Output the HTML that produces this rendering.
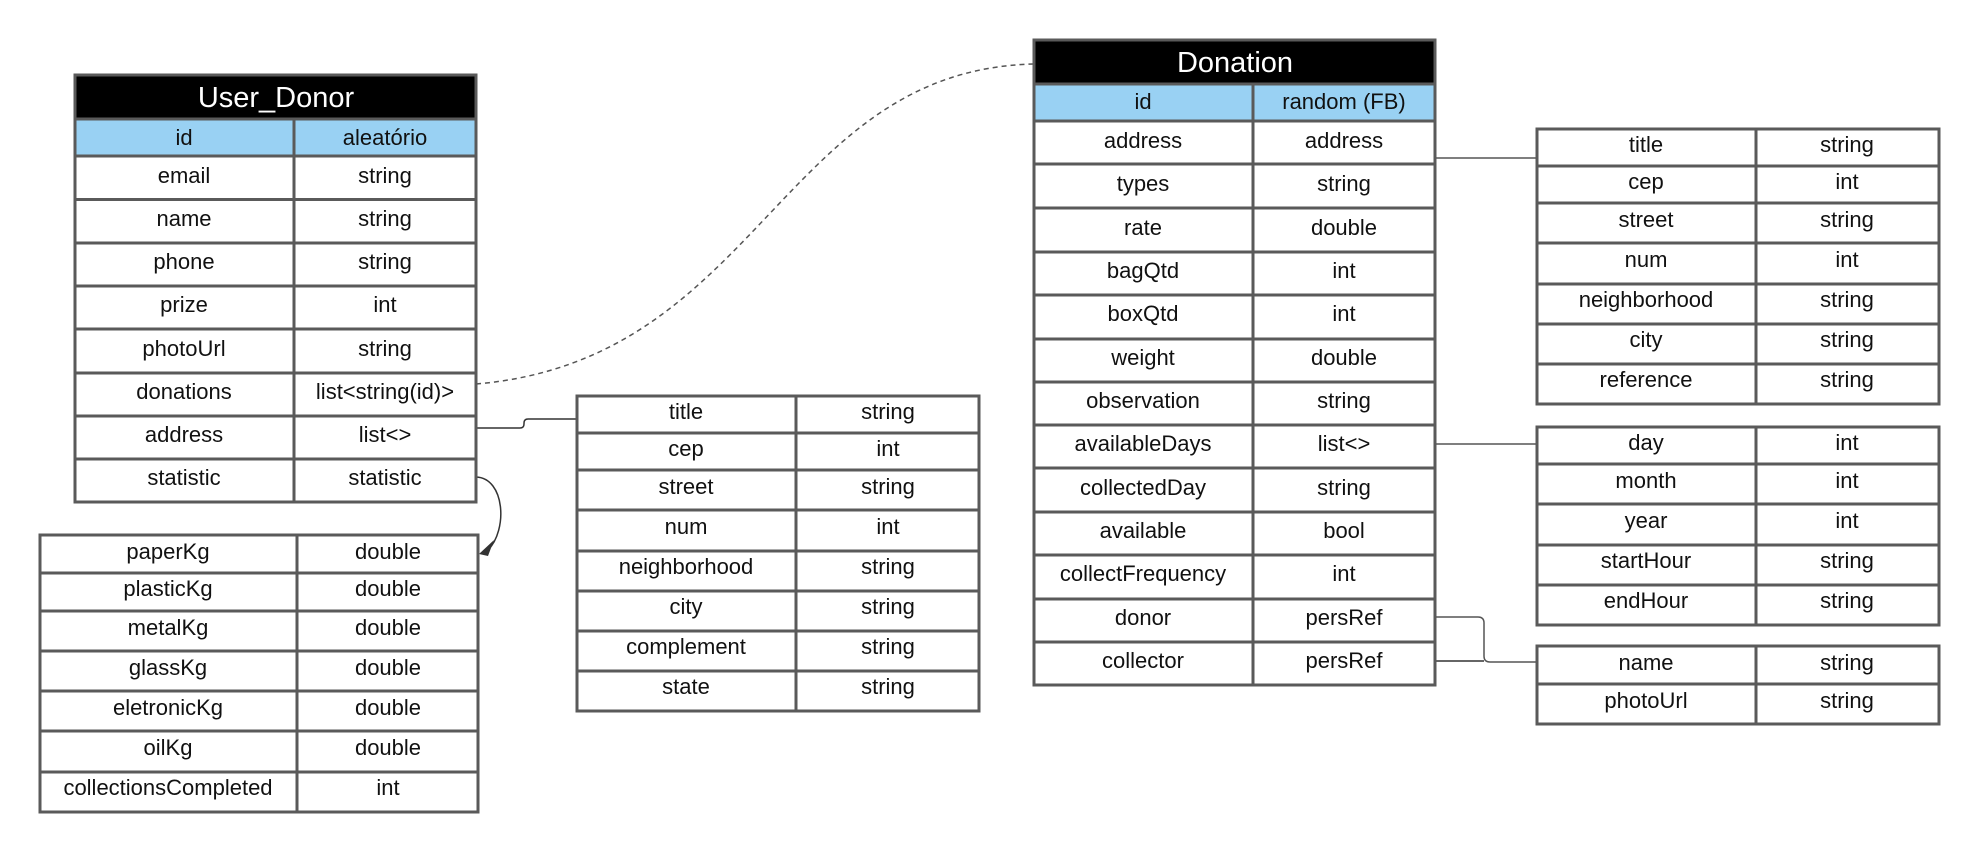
<!DOCTYPE html>
<html><head><meta charset="utf-8"><style>
html,body{margin:0;padding:0;background:#fff;}
svg{display:block;}
text{font-family:"Liberation Sans",Arial,sans-serif;font-size:22px;fill:#111;text-anchor:middle;}
.t{font-size:29px;fill:#fff;}
.g{stroke:#5a5a5a;stroke-width:3;fill:none;}
</style></head><body>
<svg width="1975" height="847" viewBox="0 0 1975 847" xmlns="http://www.w3.org/2000/svg">
<!-- connectors -->
<path d="M476 384 C 760 360, 780 70, 1034 64" stroke="#555" stroke-width="1.5" fill="none" stroke-dasharray="5,4"/>
<path d="M476 428 L520 428 Q524 428 524 424 L524 423 Q524 419 528 419 L576 419" stroke="#333" stroke-width="1.5" fill="none"/>
<path d="M476 477 C 505 478, 508 530, 488 550" stroke="#333" stroke-width="1.5" fill="none"/>
<polygon points="479,554 494,540 488,556" fill="#333"/>
<path d="M1435 158 L1537 158" stroke="#555" stroke-width="1.5"/>
<path d="M1435 444 L1537 444" stroke="#555" stroke-width="1.5"/>
<path d="M1435 617 L1478 617 Q1484 617 1484 623 L1484 656 Q1484 662 1490 662 L1536 662" stroke="#555" stroke-width="1.5" fill="none"/>
<path d="M1435 661 L1484 661" stroke="#333" stroke-width="1.5"/>

<!-- User_Donor -->
<rect x="75" y="75" width="401" height="44" fill="#000"/>
<rect x="75" y="119" width="401" height="37" fill="#99d1f3"/>
<text class="t" x="276" y="107">User_Donor</text>
<g class="g">
<rect x="75" y="75" width="401" height="427"/>
<path d="M75 119H476M75 156H476M75 199.5H476M75 243H476M75 286H476M75 329H476M75 373H476M75 416H476M75 459H476M294 119V502"/>
</g>
<text x="184" y="145">id</text><text x="385" y="145">aleatório</text>
<text x="184" y="183">email</text><text x="385" y="183">string</text>
<text x="184" y="226">name</text><text x="385" y="226">string</text>
<text x="184" y="269">phone</text><text x="385" y="269">string</text>
<text x="184" y="312">prize</text><text x="385" y="312">int</text>
<text x="184" y="356">photoUrl</text><text x="385" y="356">string</text>
<text x="184" y="399">donations</text><text x="385" y="399">list&lt;string(id)&gt;</text>
<text x="184" y="442">address</text><text x="385" y="442">list&lt;&gt;</text>
<text x="184" y="485">statistic</text><text x="385" y="485">statistic</text>

<!-- Statistic -->
<g class="g">
<rect x="40" y="535" width="438" height="277"/>
<path d="M40 573H478M40 611H478M40 651H478M40 691H478M40 731H478M40 772H478M297 535V812"/>
</g>
<text x="168" y="559">paperKg</text><text x="388" y="559">double</text>
<text x="168" y="596">plasticKg</text><text x="388" y="596">double</text>
<text x="168" y="635">metalKg</text><text x="388" y="635">double</text>
<text x="168" y="675">glassKg</text><text x="388" y="675">double</text>
<text x="168" y="715">eletronicKg</text><text x="388" y="715">double</text>
<text x="168" y="755">oilKg</text><text x="388" y="755">double</text>
<text x="168" y="795">collectionsCompleted</text><text x="388" y="795">int</text>

<!-- Left address -->
<g class="g">
<rect x="577" y="396" width="402" height="315"/>
<path d="M577 433H979M577 470H979M577 510H979M577 551H979M577 591H979M577 631H979M577 671H979M796 396V711"/>
</g>
<text x="686" y="419">title</text><text x="888" y="419">string</text>
<text x="686" y="456">cep</text><text x="888" y="456">int</text>
<text x="686" y="494">street</text><text x="888" y="494">string</text>
<text x="686" y="534">num</text><text x="888" y="534">int</text>
<text x="686" y="574">neighborhood</text><text x="888" y="574">string</text>
<text x="686" y="614">city</text><text x="888" y="614">string</text>
<text x="686" y="654">complement</text><text x="888" y="654">string</text>
<text x="686" y="694">state</text><text x="888" y="694">string</text>

<!-- Donation -->
<rect x="1034" y="40" width="401" height="44" fill="#000"/>
<rect x="1034" y="84" width="401" height="37" fill="#99d1f3"/>
<text class="t" x="1235" y="72">Donation</text>
<g class="g">
<rect x="1034" y="40" width="401" height="645"/>
<path d="M1034 84H1435M1034 121H1435M1034 164H1435M1034 208H1435M1034 252H1435M1034 295H1435M1034 339H1435M1034 382H1435M1034 425H1435M1034 468H1435M1034 512H1435M1034 555H1435M1034 599H1435M1034 642H1435M1253 84V685"/>
</g>
<text x="1143" y="109">id</text><text x="1344" y="109">random (FB)</text>
<text x="1143" y="148">address</text><text x="1344" y="148">address</text>
<text x="1143" y="191">types</text><text x="1344" y="191">string</text>
<text x="1143" y="235">rate</text><text x="1344" y="235">double</text>
<text x="1143" y="278">bagQtd</text><text x="1344" y="278">int</text>
<text x="1143" y="321">boxQtd</text><text x="1344" y="321">int</text>
<text x="1143" y="365">weight</text><text x="1344" y="365">double</text>
<text x="1143" y="408">observation</text><text x="1344" y="408">string</text>
<text x="1143" y="451">availableDays</text><text x="1344" y="451">list&lt;&gt;</text>
<text x="1143" y="495">collectedDay</text><text x="1344" y="495">string</text>
<text x="1143" y="538">available</text><text x="1344" y="538">bool</text>
<text x="1143" y="581">collectFrequency</text><text x="1344" y="581">int</text>
<text x="1143" y="625">donor</text><text x="1344" y="625">persRef</text>
<text x="1143" y="668">collector</text><text x="1344" y="668">persRef</text>

<!-- Right address -->
<g class="g">
<rect x="1537" y="129" width="402" height="275"/>
<path d="M1537 166H1939M1537 203H1939M1537 243H1939M1537 284H1939M1537 324H1939M1537 364H1939M1756 129V404"/>
</g>
<text x="1646" y="152">title</text><text x="1847" y="152">string</text>
<text x="1646" y="189">cep</text><text x="1847" y="189">int</text>
<text x="1646" y="227">street</text><text x="1847" y="227">string</text>
<text x="1646" y="267">num</text><text x="1847" y="267">int</text>
<text x="1646" y="307">neighborhood</text><text x="1847" y="307">string</text>
<text x="1646" y="347">city</text><text x="1847" y="347">string</text>
<text x="1646" y="387">reference</text><text x="1847" y="387">string</text>

<!-- Days -->
<g class="g">
<rect x="1537" y="427" width="402" height="198"/>
<path d="M1537 464H1939M1537 504H1939M1537 545H1939M1537 585H1939M1756 427V625"/>
</g>
<text x="1646" y="450">day</text><text x="1847" y="450">int</text>
<text x="1646" y="488">month</text><text x="1847" y="488">int</text>
<text x="1646" y="528">year</text><text x="1847" y="528">int</text>
<text x="1646" y="568">startHour</text><text x="1847" y="568">string</text>
<text x="1646" y="608">endHour</text><text x="1847" y="608">string</text>

<!-- Person -->
<g class="g">
<rect x="1537" y="646" width="402" height="78"/>
<path d="M1537 684H1939M1756 646V724"/>
</g>
<text x="1646" y="670">name</text><text x="1847" y="670">string</text>
<text x="1646" y="708">photoUrl</text><text x="1847" y="708">string</text>
</svg>
</body></html>
